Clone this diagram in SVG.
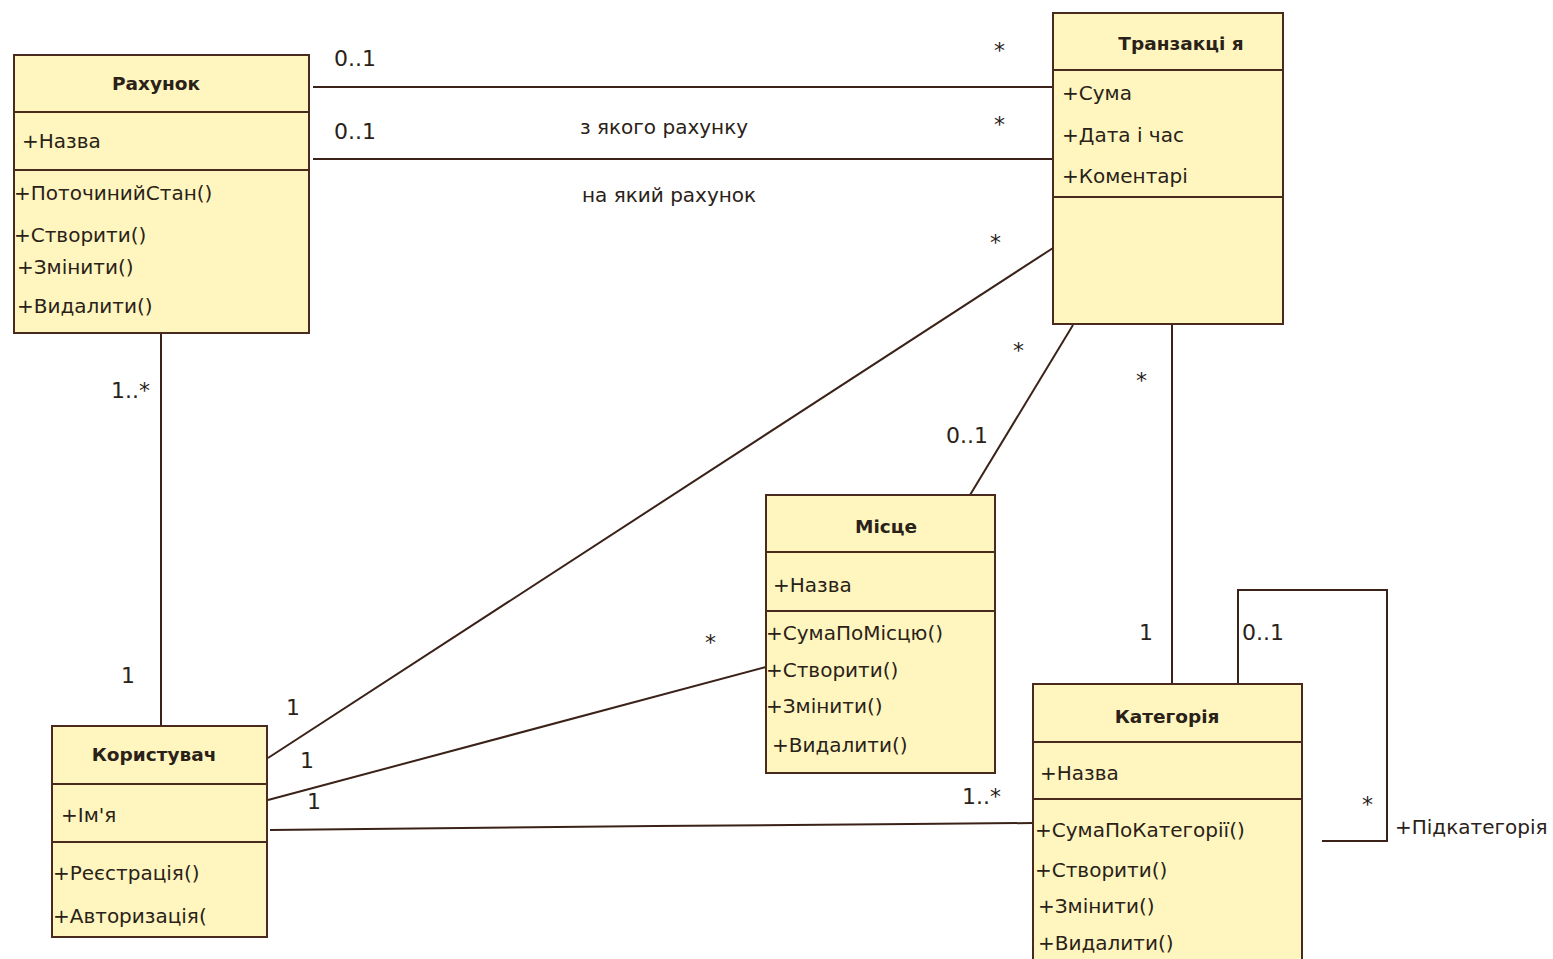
<svg xmlns="http://www.w3.org/2000/svg" width="1553" height="959" viewBox="0 0 1553 959">
<style>
.box{fill:#FFF6BF;stroke:#4A2A1C;stroke-width:2}
.sep{stroke:#4A2A1C;stroke-width:2}
.t{font-family:"DejaVu Sans","Noto Sans",sans-serif;font-size:20px;fill:#2a2218}
.h{font-family:"DejaVu Sans","Noto Sans",sans-serif;font-size:18.5px;font-weight:bold;fill:#2a2218;text-anchor:middle}
.m{font-family:"DejaVu Sans","Noto Sans",sans-serif;font-size:22px;fill:#2a2218}
.c{fill:none;stroke:#3A2218;stroke-width:2}
</style>
<rect width="1553" height="959" fill="#ffffff"/>
<g id="connectors">
<line class="c" x1="313" y1="87" x2="1053" y2="87"/>
<line class="c" x1="313" y1="159" x2="1053" y2="159"/>
<line class="c" x1="1053" y1="248" x2="268" y2="758"/>
<line class="c" x1="1073" y1="325" x2="970" y2="495"/>
<line class="c" x1="1172" y1="324" x2="1172" y2="684"/>
<line class="c" x1="161" y1="333" x2="161" y2="726"/>
<line class="c" x1="268" y1="800" x2="766" y2="667"/>
<polyline class="c" points="270,830 655,826 910,824 1033,823"/>
<polyline class="c" points="1238,684 1238,590 1387,590 1387,841 1322,841"/>
<text class="m" x="334" y="66">0..1</text>
<text class="m" x="334" y="139">0..1</text>
<text class="m" x="994" y="58">*</text>
<text class="m" x="994" y="132">*</text>
<text class="t" x="580" y="134">з якого рахунку</text>
<text class="t" x="582" y="202">на який рахунок</text>
<text class="m" x="990" y="250">*</text>
<text class="m" x="1013" y="358">*</text>
<text class="m" x="946" y="443">0..1</text>
<text class="m" x="1136" y="388">*</text>
<text class="m" x="1139" y="640">1</text>
<text class="m" x="1242" y="640">0..1</text>
<text class="m" x="1362" y="812">*</text>
<text class="t" x="1395" y="834">+Підкатегорія</text>
<text class="m" x="111" y="398">1..*</text>
<text class="m" x="121" y="683">1</text>
<text class="m" x="286" y="715">1</text>
<text class="m" x="300" y="768">1</text>
<text class="m" x="307" y="809">1</text>
<text class="m" x="705" y="650">*</text>
<text class="m" x="962" y="804">1..*</text>
</g>
<g id="rahunok">
<rect class="box" x="14" y="55" width="295" height="278"/>
<line class="sep" x1="14" y1="112" x2="309" y2="112"/>
<line class="sep" x1="14" y1="170" x2="309" y2="170"/>
<text class="h" x="156" y="90">Рахунок</text>
<text class="t" x="22" y="148">+Назва</text>
<text class="t" x="14" y="200">+ПоточинийСтан()</text>
<text class="t" x="14" y="242">+Створити()</text>
<text class="t" x="17" y="274">+Змінити()</text>
<text class="t" x="17" y="313">+Видалити()</text>
</g>
<g id="tranzaktsiya">
<rect class="box" x="1053" y="13" width="230" height="311"/>
<line class="sep" x1="1053" y1="70" x2="1283" y2="70"/>
<line class="sep" x1="1053" y1="197" x2="1283" y2="197"/>
<text class="h" x="1181" y="50">Транзакці я</text>
<text class="t" x="1062" y="100">+Сума</text>
<text class="t" x="1062" y="142">+Дата і час</text>
<text class="t" x="1062" y="183">+Коментарі</text>
</g>
<g id="mistse">
<rect class="box" x="766" y="495" width="229" height="278"/>
<line class="sep" x1="766" y1="552" x2="995" y2="552"/>
<line class="sep" x1="766" y1="611" x2="995" y2="611"/>
<text class="h" x="886" y="533">Місце</text>
<text class="t" x="773" y="592">+Назва</text>
<text class="t" x="766" y="640">+СумаПоМісцю()</text>
<text class="t" x="766" y="677">+Створити()</text>
<text class="t" x="766" y="713">+Змінити()</text>
<text class="t" x="772" y="752">+Видалити()</text>
</g>
<g id="korystuvach">
<rect class="box" x="52" y="726" width="215" height="211"/>
<line class="sep" x1="52" y1="784" x2="267" y2="784"/>
<line class="sep" x1="52" y1="842" x2="267" y2="842"/>
<text class="h" x="154" y="761">Користувач</text>
<text class="t" x="61" y="822">+Ім'я</text>
<text class="t" x="53" y="880">+Реєстрація()</text>
<text class="t" x="53" y="923">+Авторизація(</text>
</g>
<g id="katehoriya">
<rect class="box" x="1033" y="684" width="269" height="290"/>
<line class="sep" x1="1033" y1="742" x2="1302" y2="742"/>
<line class="sep" x1="1033" y1="799" x2="1302" y2="799"/>
<text class="h" x="1167" y="723">Категорія</text>
<text class="t" x="1040" y="780">+Назва</text>
<text class="t" x="1035" y="837">+СумаПоКатегорії()</text>
<text class="t" x="1035" y="877">+Створити()</text>
<text class="t" x="1038" y="913">+Змінити()</text>
<text class="t" x="1038" y="950">+Видалити()</text>
</g>
</svg>
